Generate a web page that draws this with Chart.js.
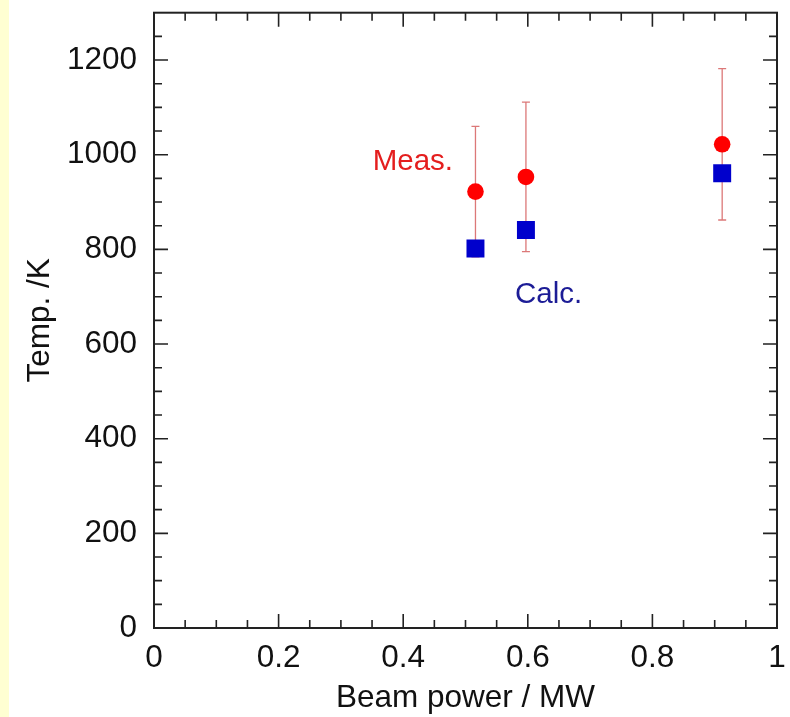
<!DOCTYPE html>
<html><head><meta charset="utf-8">
<script src="https://cdn.jsdelivr.net/npm/chart.js@4/dist/chart.umd.min.js"></script>
<style>
html,body{margin:0;padding:0;background:#fff;}
#strip{position:absolute;left:0;top:0;width:9px;height:717px;background:#FFFFD2;}
#wrap{position:absolute;left:0;top:0;width:790px;height:717px;}
</style></head><body>
<div id="strip"></div>
<div id="wrap"><canvas id="c" width="790" height="717"></canvas></div>
<script>
// ---- data ----
const beamPower = [0.516, 0.597, 0.912];
const measTemp = [922, 953, 1022];
const measErr = [138, 158, 160];
const calcTemp = [802, 841, 961];
const xTickValues = [0, 0.2, 0.4, 0.6, 0.8, 1];
const yTickValues = [0, 200, 400, 600, 800, 1000, 1200];
const seriesLabels = ['Meas.', 'Calc.'];

// ---- styling / layout ----
const FONT = '"Liberation Sans", Arial, sans-serif';
const labelPlacement = [
  {text: seriesLabels[0], x: 0.351, y: 967, color: '#E41E1E'},
  {text: seriesLabels[1], x: 0.5795, y: 686, color: '#1C1C96'}
];

const errorBars = {
  id: 'errorBars',
  beforeDatasetsDraw(chart) {
    const {ctx, scales: {x, y}} = chart;
    ctx.save();
    ctx.strokeStyle = '#DC7878';
    ctx.lineWidth = 1.3;
    beamPower.forEach((b, i) => {
      const px = x.getPixelForValue(b);
      const top = y.getPixelForValue(measTemp[i] + measErr[i]);
      const bot = y.getPixelForValue(measTemp[i] - measErr[i]);
      ctx.beginPath();
      ctx.moveTo(px, top); ctx.lineTo(px, bot);
      ctx.moveTo(px - 4, top); ctx.lineTo(px + 4, top);
      ctx.moveTo(px - 4, bot); ctx.lineTo(px + 4, bot);
      ctx.stroke();
    });
    ctx.restore();
  }
};

const frameTicks = {
  id: 'frameTicks',
  afterDraw(chart) {
    const {ctx, chartArea: a, scales: {x, y}} = chart;
    ctx.save();
    ctx.strokeStyle = '#222';
    ctx.lineWidth = 2;
    ctx.strokeRect(a.left, a.top, a.right - a.left, a.bottom - a.top);
    ctx.lineWidth = 1.6;
    ctx.beginPath();
    for (let k = 1; k < 20; k++) {
      const v = k * 0.05;
      const px = x.getPixelForValue(v);
      const len = (k % 4 === 0) ? 14 : 8;
      ctx.moveTo(px, a.bottom); ctx.lineTo(px, a.bottom - len);
      ctx.moveTo(px, a.top); ctx.lineTo(px, a.top + len);
    }
    for (let k = 1; k <= 26; k++) {
      const v = k * 50;
      const py = y.getPixelForValue(v);
      if (py < a.top + 1) continue;
      const len = (k % 4 === 0) ? 14 : 8;
      ctx.moveTo(a.left, py); ctx.lineTo(a.left + len, py);
      ctx.moveTo(a.right, py); ctx.lineTo(a.right - len, py);
    }
    ctx.stroke();
    ctx.restore();
  }
};

const seriesText = {
  id: 'seriesText',
  afterDatasetsDraw(chart) {
    const {ctx, scales: {x, y}} = chart;
    ctx.save();
    ctx.font = '29.5px ' + FONT;
    ctx.textAlign = 'left';
    ctx.textBaseline = 'alphabetic';
    labelPlacement.forEach(l => {
      ctx.fillStyle = l.color;
      ctx.fillText(l.text, x.getPixelForValue(l.x), y.getPixelForValue(l.y));
    });
    ctx.restore();
  }
};

const zeroPad = s => { s.paddingTop = 0; s.paddingBottom = 0; s.paddingLeft = 0; s.paddingRight = 0; };

new Chart(document.getElementById('c'), {
  type: 'scatter',
  data: {
    datasets: [
      {
        label: seriesLabels[0],
        data: beamPower.map((b, i) => ({x: b, y: measTemp[i]})),
        pointStyle: 'circle',
        pointRadius: 8.3,
        backgroundColor: '#FF0000',
        borderColor: '#FF0000',
        borderWidth: 0
      },
      {
        label: seriesLabels[1],
        data: beamPower.map((b, i) => ({x: b, y: calcTemp[i]})),
        pointStyle: 'rect',
        pointRadius: 12.7,
        backgroundColor: '#0000CC',
        borderColor: '#0000CC',
        borderWidth: 0
      }
    ]
  },
  options: {
    responsive: false,
    animation: false,
    devicePixelRatio: 1,
    layout: {padding: {left: 0, right: 13, top: 10, bottom: 0}},
    plugins: {legend: {display: false}, tooltip: {enabled: false}},
    scales: {
      x: {
        type: 'linear', min: 0, max: 1,
        afterBuildTicks: s => { s.ticks = xTickValues.map(v => ({value: v})); },
        afterFit: s => { s.height = 89; zeroPad(s); },
        grid: {display: false, drawTicks: false},
        border: {display: false},
        ticks: {font: {size: 31.5, family: FONT}, color: '#111', padding: 11, maxRotation: 0,
                callback: v => String(v)},
        title: {display: true, text: 'Beam power / MW', font: {size: 31.5, family: FONT}, color: '#111', padding: {top: 0, bottom: 0}}
      },
      y: {
        type: 'linear', min: 0, max: 1300,
        afterBuildTicks: s => { s.ticks = yTickValues.map(v => ({value: v})); },
        afterFit: s => { s.width = 154; zeroPad(s); },
        grid: {display: false, drawTicks: false},
        border: {display: false},
        ticks: {font: {size: 31.5, family: FONT}, color: '#111', padding: 17,
                callback: v => String(v)},
        title: {display: true, text: 'Temp. /K', font: {size: 31.5, family: FONT}, color: '#111', padding: {top: 21, bottom: 0}}
      }
    }
  },
  plugins: [errorBars, frameTicks, seriesText]
});
</script>
</body></html>
